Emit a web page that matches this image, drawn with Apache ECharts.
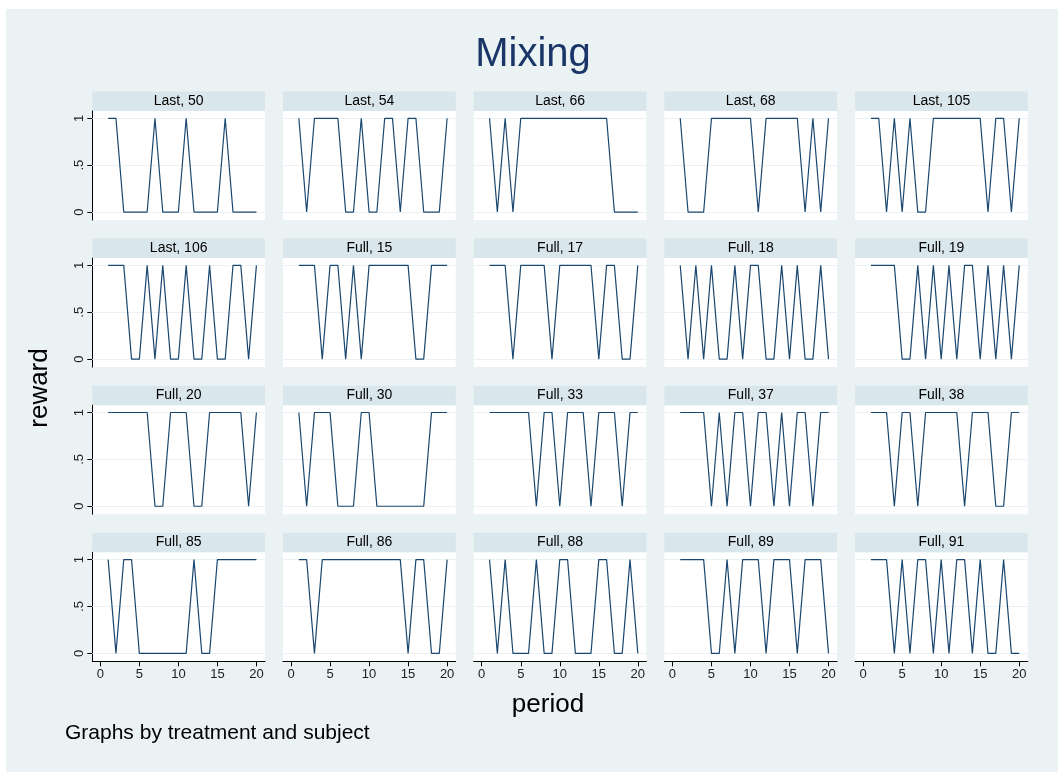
<!DOCTYPE html>
<html>
<head>
<meta charset="utf-8">
<script src="https://cdn.jsdelivr.net/npm/echarts@6/dist/echarts.min.js"></script>
<style>
html,body{margin:0;padding:0;background:#ffffff;}
#bg{position:absolute;left:6px;top:9px;width:1052px;height:763px;background:#eaf2f3;}
#chart{position:absolute;left:0;top:0;width:1058px;height:772px;}
</style>
</head>
<body>
<div id="bg"></div>
<div id="chart"></div>
<script>
// ---- data ----
const periods = [1,2,3,4,5,6,7,8,9,10,11,12,13,14,15,16,17,18,19,20];
const panelTitles = ['Last, 50','Last, 54','Last, 66','Last, 68','Last, 105',
  'Last, 106','Full, 15','Full, 17','Full, 18','Full, 19',
  'Full, 20','Full, 30','Full, 33','Full, 37','Full, 38',
  'Full, 85','Full, 86','Full, 88','Full, 89','Full, 91'];
const last50  = [1,1,0,0,0,0,1,0,0,0,1,0,0,0,0,1,0,0,0,0];
const last54  = [1,0,1,1,1,1,0,0,1,0,0,1,1,0,1,1,0,0,0,1];
const last66  = [1,0,1,0,1,1,1,1,1,1,1,1,1,1,1,1,0,0,0,0];
const last68  = [1,0,0,0,1,1,1,1,1,1,0,1,1,1,1,1,0,1,0,1];
const last105 = [1,1,0,1,0,1,0,0,1,1,1,1,1,1,1,0,1,1,0,1];
const last106 = [1,1,1,0,0,1,0,1,0,0,1,0,0,1,0,0,1,1,0,1];
const full15  = [1,1,1,0,1,1,0,1,0,1,1,1,1,1,1,0,0,1,1,1];
const full17  = [1,1,1,0,1,1,1,1,0,1,1,1,1,1,0,1,1,0,0,1];
const full18  = [1,0,1,0,1,0,0,1,0,1,1,0,0,1,0,1,0,0,1,0];
const full19  = [1,1,1,1,0,0,1,0,1,0,1,0,1,1,0,1,0,1,0,1];
const full20  = [1,1,1,1,1,1,0,0,1,1,1,0,0,1,1,1,1,1,0,1];
const full30  = [1,0,1,1,1,0,0,0,1,1,0,0,0,0,0,0,0,1,1,1];
const full33  = [1,1,1,1,1,1,0,1,1,0,1,1,1,0,1,1,1,0,1,1];
const full37  = [1,1,1,1,0,1,0,1,1,0,1,1,0,1,0,1,1,0,1,1];
const full38  = [1,1,1,0,1,1,0,1,1,1,1,1,0,1,1,1,0,0,1,1];
const full85  = [1,0,1,1,0,0,0,0,0,0,0,1,0,0,1,1,1,1,1,1];
const full86  = [1,1,0,1,1,1,1,1,1,1,1,1,1,1,0,1,1,0,0,1];
const full88  = [1,0,1,0,0,0,1,0,0,1,1,0,0,0,1,1,0,0,1,0];
const full89  = [1,1,1,1,0,0,1,0,1,1,1,0,1,1,1,0,1,1,1,0];
const full91  = [1,1,1,0,1,0,1,1,0,1,0,1,1,0,1,0,0,1,0,0];
const panelValues = [last50,last54,last66,last68,last105,last106,full15,full17,full18,full19,
  full20,full30,full33,full37,full38,full85,full86,full88,full89,full91];
const xTickValues = [0,5,10,15,20];
const yTickValues = [0,0.5,1];
const yTickLabels = ['0','.5','1'];

// ---- layout ----
const FONT = '"Liberation Sans", Arial, sans-serif';
const NCOL = 5, NROW = 4;
const X0 = 92.3, Y0 = 111, DX = 190.7, DY = 147.1, PW = 172.7, PH = 109, STRIP = 19.5;
const NAVY = '#1a476f';

const grids = [], xAxes = [], yAxes = [], series = [], graphics = [];
panelTitles.forEach((t, i) => {
  const r = Math.floor(i / NCOL), c = i % NCOL;
  const left = X0 + DX * c, top = Y0 + DY * r;
  grids.push({left: left, top: top, width: PW, height: PH, show: true,
    backgroundColor: '#ffffff', borderWidth: 0});
  const bottomRow = r === NROW - 1, leftCol = c === 0;
  xAxes.push({gridIndex: i, type: 'value', min: -1.03, max: 21.1,
    axisLine: {show: bottomRow, onZero: false, lineStyle: {color: '#000', width: 1}},
    axisTick: {show: bottomRow, customValues: xTickValues, length: 5, lineStyle: {color: '#000'}},
    axisLabel: {show: bottomRow, customValues: xTickValues, fontSize: 13, fontFamily: FONT, color: '#222', margin: 7},
    splitLine: {show: false}});
  yAxes.push({gridIndex: i, type: 'value', min: -0.085, max: 1.078,
    axisLine: {show: leftCol, onZero: false, lineStyle: {color: '#000', width: 1}},
    axisTick: {show: leftCol, customValues: yTickValues, length: 5, lineStyle: {color: '#000'}},
    axisLabel: {show: leftCol, customValues: yTickValues, rotate: 90, fontSize: 13, fontFamily: FONT, color: '#222', margin: 6,
      formatter: v => yTickLabels[yTickValues.indexOf(v)]},
    splitLine: {show: false}});
  series.push({type: 'line', xAxisIndex: i, yAxisIndex: i, z: 3,
    data: periods.map((p, k) => [p, panelValues[i][k]]),
    showSymbol: false, symbol: 'none', animation: false,
    lineStyle: {color: NAVY, width: 1.2},
    markLine: {silent: true, symbol: 'none', z: 1, animation: false,
      label: {show: false},
      lineStyle: {color: '#eaf2f3', width: 1, type: 'solid'},
      data: yTickValues.map(v => ({yAxis: v}))}});
  graphics.push({type: 'rect', shape: {x: left, y: top - STRIP, width: PW, height: STRIP},
    style: {fill: '#d9e6eb'}, silent: true});
  graphics.push({type: 'text', x: left + PW / 2, y: top - STRIP / 2,
    style: {text: t, font: '14px ' + FONT, fill: '#000', align: 'center', verticalAlign: 'middle',
      textAlign: 'center', textVerticalAlign: 'middle'}, silent: true});
});

graphics.push({type: 'text', x: 533, y: 55,
  style: {text: 'Mixing', font: '40px ' + FONT, fill: '#1a3668', align: 'center', verticalAlign: 'middle',
    textAlign: 'center', textVerticalAlign: 'middle'}});
graphics.push({type: 'text', x: 40, y: 388, rotation: Math.PI / 2,
  style: {text: 'reward', font: '26px ' + FONT, fill: '#000', align: 'center', verticalAlign: 'middle',
    textAlign: 'center', textVerticalAlign: 'middle'}});
graphics.push({type: 'text', x: 548, y: 705,
  style: {text: 'period', font: '26px ' + FONT, fill: '#000', align: 'center', verticalAlign: 'middle',
    textAlign: 'center', textVerticalAlign: 'middle'}});
graphics.push({type: 'text', x: 65, y: 733,
  style: {text: 'Graphs by treatment and subject', font: '21px ' + FONT, fill: '#000', align: 'left', verticalAlign: 'middle',
    textAlign: 'left', textVerticalAlign: 'middle'}});

const chart = echarts.init(document.getElementById('chart'), null, {renderer: 'canvas'});
chart.setOption({
  animation: false,
  backgroundColor: 'transparent',
  grid: grids, xAxis: xAxes, yAxis: yAxes, series: series,
  graphic: {elements: graphics}
});
</script>
</body>
</html>
